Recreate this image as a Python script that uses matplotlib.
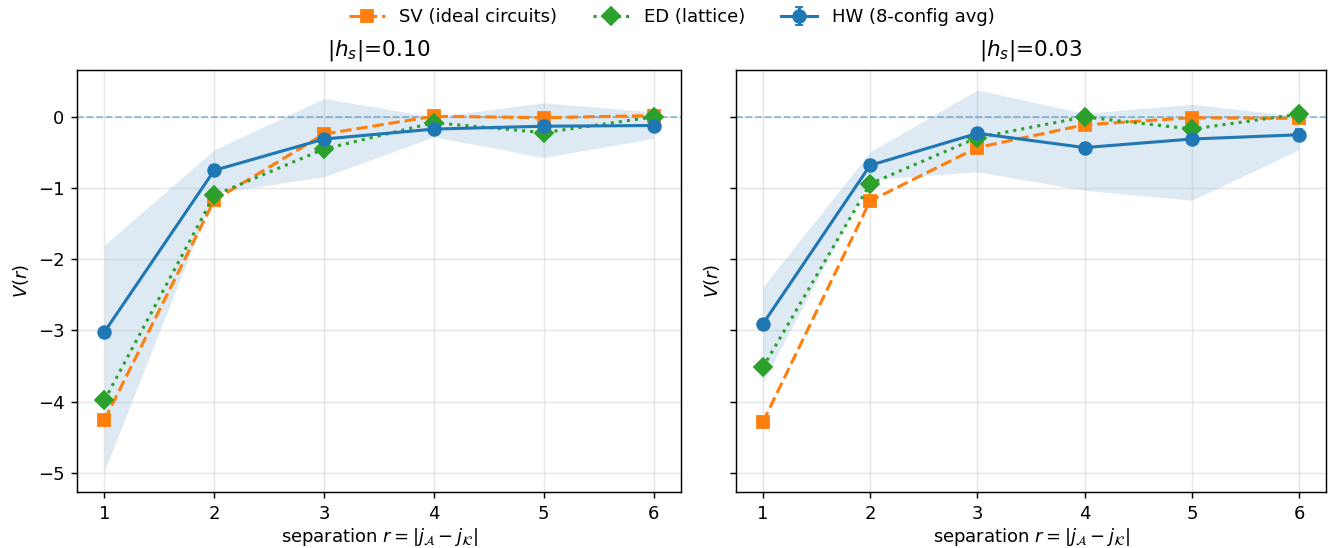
import matplotlib
matplotlib.use("Agg")
import matplotlib.pyplot as plt
import numpy as np

r = [1, 2, 3, 4, 5, 6]
titles = [r"$|h_s|$=0.10", r"$|h_s|$=0.03"]

# h_s = 0.10
sv_10 = [-4.26, -1.17, -0.24, 0.01, -0.01, 0.02]
ed_10 = [-3.98, -1.10, -0.45, -0.08, -0.22, 0.00]
hw_10 = [-3.02, -0.75, -0.31, -0.17, -0.13, -0.12]
hw_err_10 = [0.05, 0.08, 0.06, 0.06, 0.07, 0.07]
hw_lo_10 = [-4.97, -1.07, -0.84, -0.28, -0.57, -0.30]
hw_hi_10 = [-1.80, -0.46, 0.26, 0.00, 0.20, 0.07]

# h_s = 0.03
sv_03 = [-4.29, -1.18, -0.43, -0.11, -0.01, -0.02]
ed_03 = [-3.52, -0.94, -0.29, 0.00, -0.17, 0.04]
hw_03 = [-2.91, -0.68, -0.23, -0.43, -0.31, -0.25]
hw_err_03 = [0.05, 0.08, 0.06, 0.07, 0.06, 0.08]
hw_lo_03 = [-3.73, -0.88, -0.77, -1.03, -1.17, -0.46]
hw_hi_03 = [-2.39, -0.49, 0.38, 0.05, 0.18, 0.01]

panels = [
    (sv_10, ed_10, hw_10, hw_err_10, hw_lo_10, hw_hi_10),
    (sv_03, ed_03, hw_03, hw_err_03, hw_lo_03, hw_hi_03),
]

dpi = 130
fig, axes = plt.subplots(1, 2, figsize=(1343 / dpi, 548 / dpi), dpi=dpi, sharey=True)

for ax, title, (sv, ed, hw, err, lo, hi) in zip(axes, titles, panels):
    ax.fill_between(r, lo, hi, color="C0", alpha=0.15, linewidth=0)
    ax.axhline(0, color="C0", alpha=0.45, linestyle="--", linewidth=1)
    ax.plot(r, sv, color="C1", linestyle="--", marker="s", markersize=7, linewidth=1.7,
            label="SV (ideal circuits)")
    ax.plot(r, ed, color="C2", linestyle=":", marker="D", markersize=7, linewidth=1.7,
            label="ED (lattice)")
    ax.errorbar(r, hw, yerr=err, color="C0", marker="o", markersize=7, linewidth=1.7,
                capsize=2, label="HW (8-config avg)")
    ax.set_title(title, pad=8)
    ax.set_xlabel(r"separation $r=|j_{\mathcal{A}}-j_{\mathcal{K}}|$", labelpad=2)
    ax.set_ylabel(r"$V(r)$")
    ax.set_xticks(r)
    ax.grid(True, alpha=0.3)
    ax.set_xlim(0.75, 6.25)

axes[0].set_ylim(-5.27, 0.66)
axes[0].set_yticks([-5, -4, -3, -2, -1, 0])
axes[0].set_yticklabels(["\u22125", "\u22124", "\u22123", "\u22122", "\u22121", "0"])

handles, labels = axes[0].get_legend_handles_labels()
fig.legend(handles, labels, loc="upper center", ncol=3, frameon=False,
           bbox_to_anchor=(0.5, 1.015))

axes[0].set_position([77 / 1343, 1 - 492 / 548, 604 / 1343, 422 / 548])
axes[1].set_position([736 / 1343, 1 - 492 / 548, 590 / 1343, 422 / 548])

fig.savefig("out.png", dpi=dpi)
